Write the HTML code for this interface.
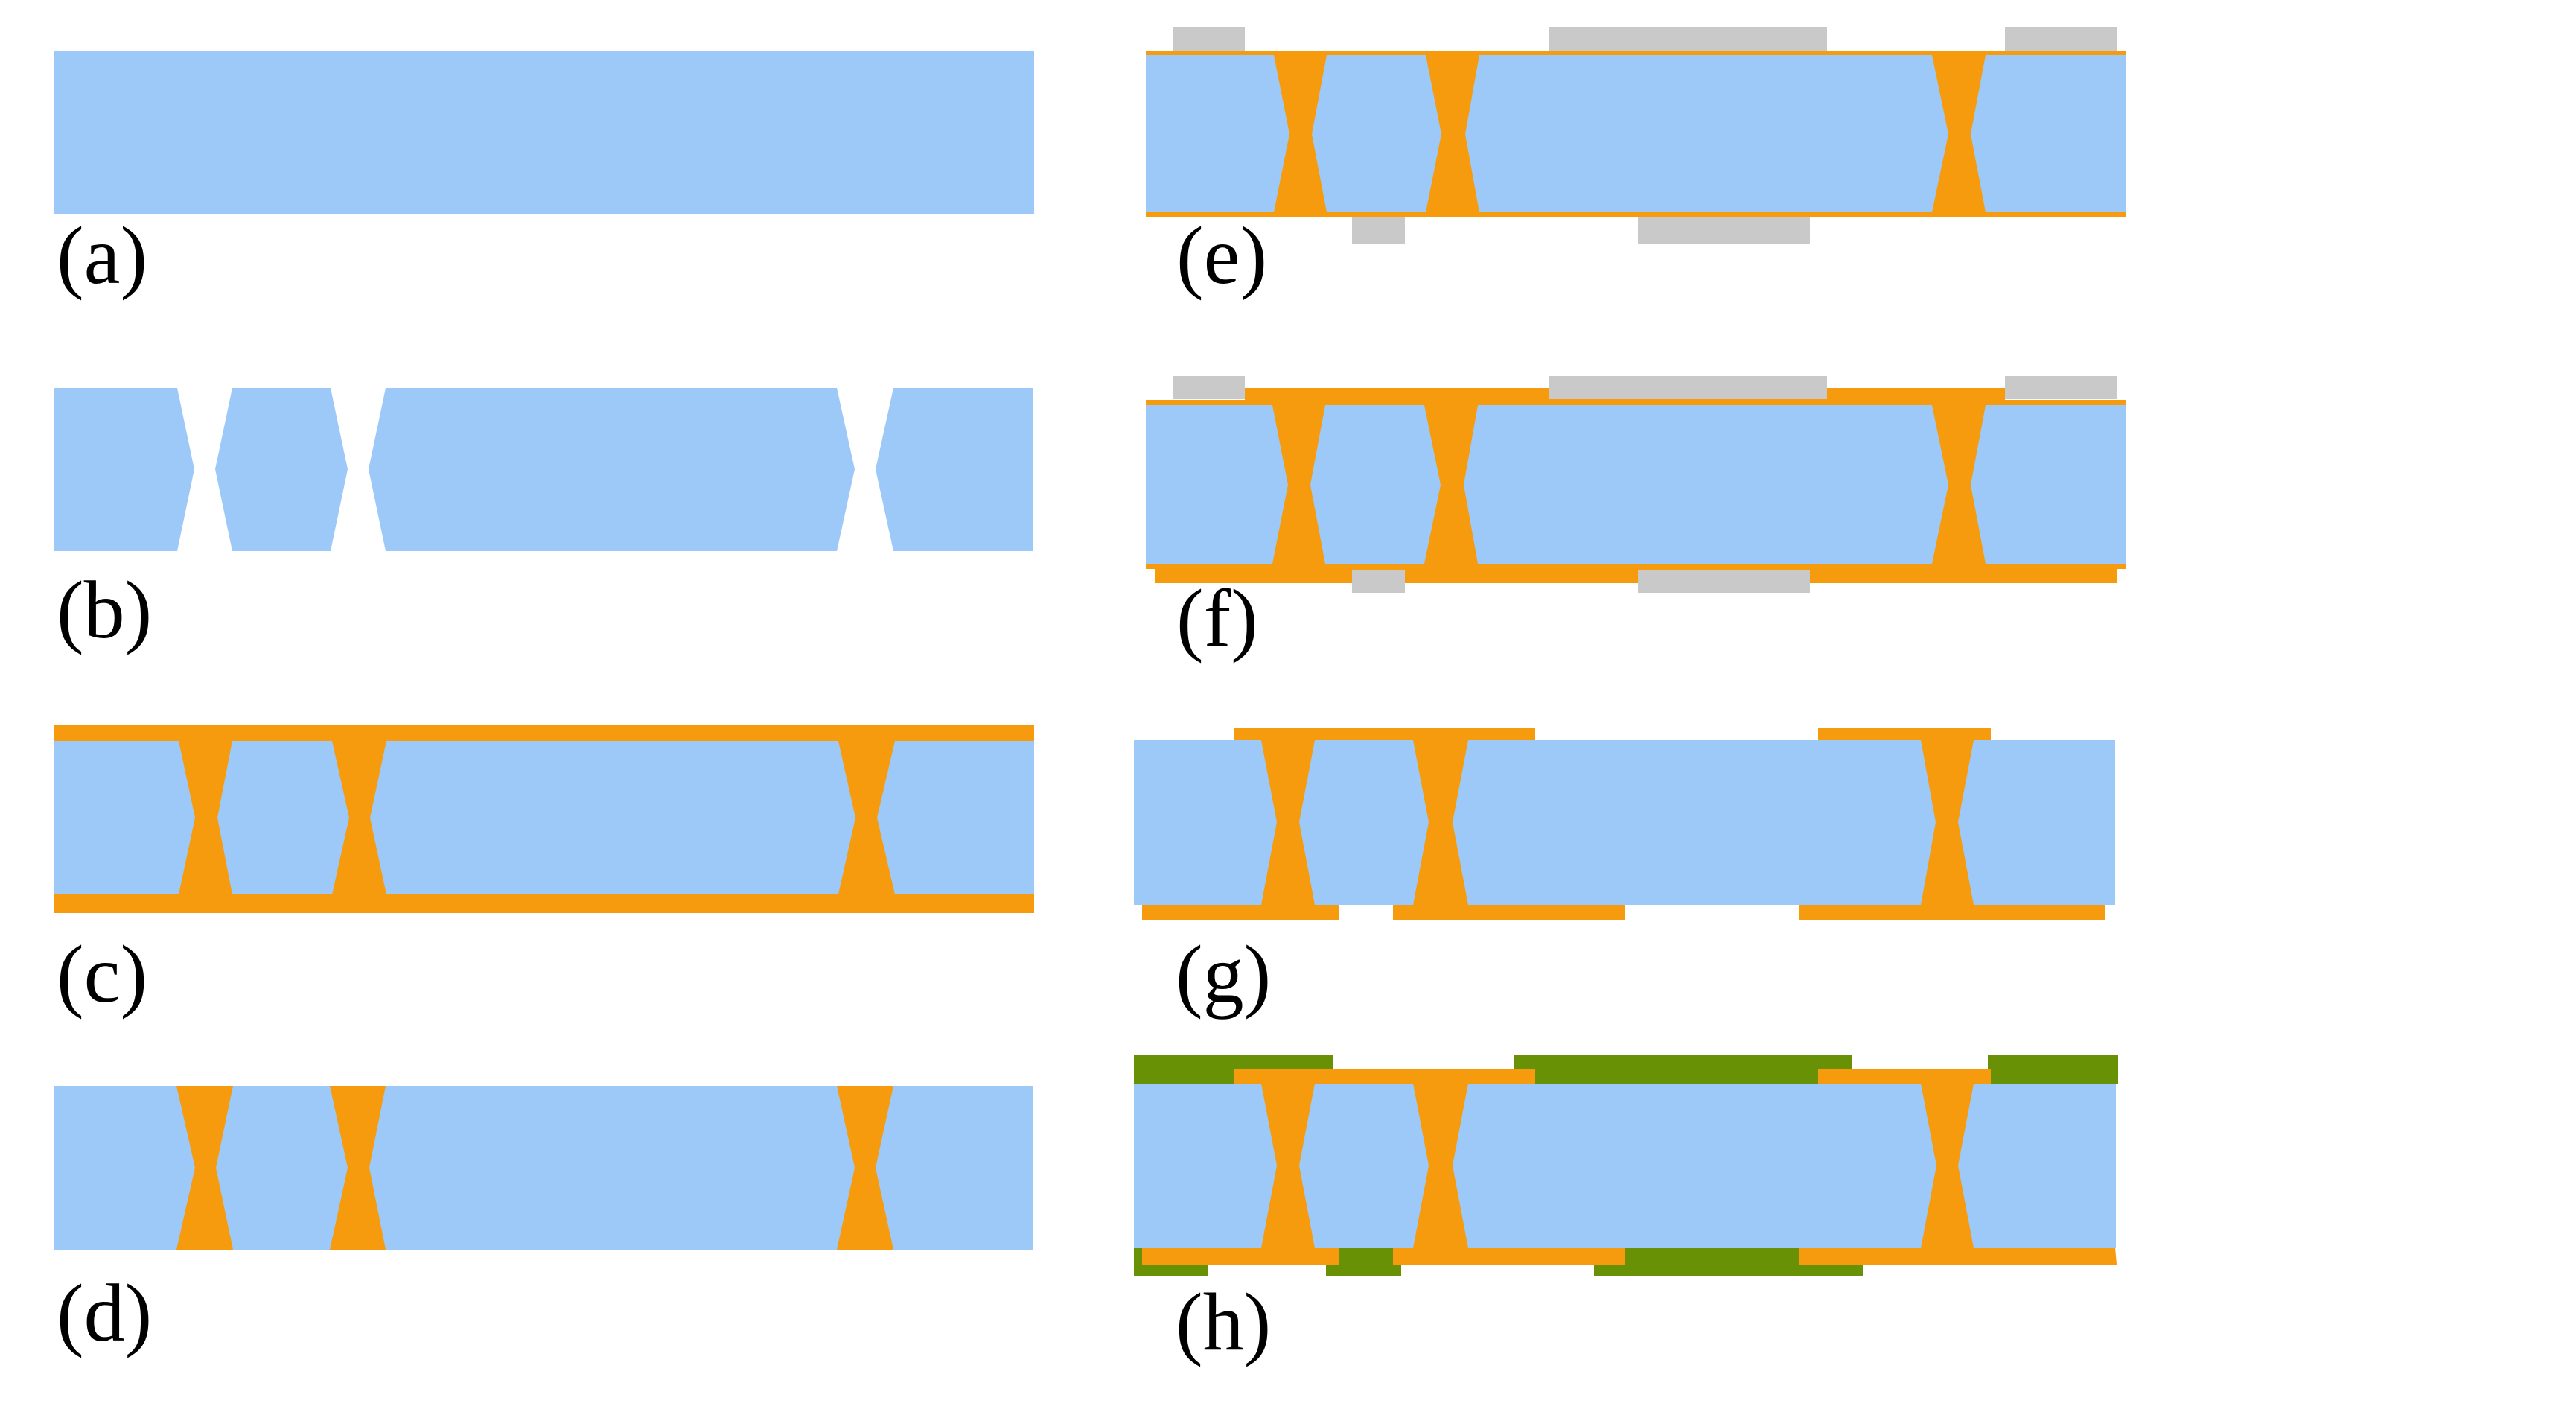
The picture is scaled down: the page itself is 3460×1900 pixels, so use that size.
<!DOCTYPE html>
<html>
<head>
<meta charset="utf-8">
<style>
  html, body { margin:0; padding:0; background:#ffffff; }
  body { width:3460px; height:1900px; overflow:hidden; }
  svg { display:block; }
  .b { fill:#9dc9f8; }
  .o { fill:#f69b0d; }
  .g { fill:#c9c9c9; }
  .gr { fill:#699106; }
  text { font-family:"Liberation Serif", "Times New Roman", serif; font-size:110px; fill:#000; }
</style>
</head>
<body>
<svg width="3460" height="1900" viewBox="0 0 3460 1900" xmlns="http://www.w3.org/2000/svg">
  <rect x="0" y="0" width="3460" height="1900" fill="#ffffff"/>

  <!-- ============ (a) ============ -->
  <rect class="b" x="72" y="68" width="1317" height="220"/>
  <text x="76" y="380">(a)</text>

  <!-- ============ (b) ============ -->
  <!-- T=521 B=740 M=630 -->
  <polygon class="b" points="72,521 238,521 261,630 238,740 72,740"/>
  <polygon class="b" points="312,521 444,521 467,630 444,740 312,740 289,630"/>
  <polygon class="b" points="518,521 1124,521 1148,630 1124,740 518,740 495,630"/>
  <polygon class="b" points="1200,521 1387,521 1387,740 1200,740 1176,630"/>
  <text x="76" y="856">(b)</text>

  <!-- ============ (c) ============ -->
  <rect class="o" x="72" y="973" width="1317" height="253"/>
  <!-- T=995 B=1201 M=1098 -->
  <polygon class="b" points="72,995 240,995 262,1098 240,1201 72,1201"/>
  <polygon class="b" points="312,995 446,995 469,1098 446,1201 312,1201 292,1098"/>
  <polygon class="b" points="519,995 1126,995 1149,1098 1126,1201 519,1201 497,1098"/>
  <polygon class="b" points="1202,995 1389,995 1389,1201 1202,1201 1178,1098"/>
  <text x="76" y="1345">(c)</text>

  <!-- ============ (d) ============ -->
  <rect class="o" x="236" y="1458" width="78" height="220"/>
  <rect class="o" x="442" y="1458" width="78" height="220"/>
  <rect class="o" x="1122" y="1458" width="80" height="220"/>
  <!-- T=1458 B=1678 M=1568 -->
  <polygon class="b" points="72,1458 237,1458 262,1568 237,1678 72,1678"/>
  <polygon class="b" points="313,1458 443,1458 467,1568 443,1678 313,1678 290,1568"/>
  <polygon class="b" points="518,1458 1124,1458 1148,1568 1124,1678 518,1678 496,1568"/>
  <polygon class="b" points="1200,1458 1387,1458 1387,1678 1200,1678 1176,1568"/>
  <text x="76" y="1800">(d)</text>

  <!-- ============ (e) ============ -->
  <rect class="o" x="1539" y="68" width="1316" height="223"/>
  <!-- T=74 B=285 M=180 -->
  <polygon class="b" points="1539,74 1711,74 1732,180 1711,285 1539,285"/>
  <polygon class="b" points="1782,74 1915,74 1936,180 1915,285 1782,285 1762,180"/>
  <polygon class="b" points="1987,74 2595,74 2617,180 2595,285 1987,285 1968,180"/>
  <polygon class="b" points="2667,74 2855,74 2855,285 2667,285 2647,180"/>
  <rect class="g" x="1576" y="36" width="96" height="32"/>
  <rect class="g" x="2080" y="36" width="374" height="32"/>
  <rect class="g" x="2693" y="36" width="151" height="32"/>
  <rect class="g" x="1816" y="292" width="71" height="35"/>
  <rect class="g" x="2200" y="292" width="231" height="35"/>
  <text x="1580" y="380">(e)</text>

  <!-- ============ (f) ============ -->
  <rect class="o" x="1539" y="537" width="1316" height="227"/>
  <rect class="o" x="1672" y="521" width="1021" height="17"/>
  <rect class="o" x="1551" y="763" width="1292" height="20"/>
  <!-- T=544 B=757 M=651 -->
  <polygon class="b" points="1539,544 1709,544 1730,651 1709,757 1539,757"/>
  <polygon class="b" points="1780,544 1913,544 1935,651 1913,757 1780,757 1760,651"/>
  <polygon class="b" points="1985,544 2595,544 2617,651 2595,757 1985,757 1966,651"/>
  <polygon class="b" points="2667,544 2855,544 2855,757 2667,757 2647,651"/>
  <rect class="g" x="1575" y="505" width="97" height="31"/>
  <rect class="g" x="2080" y="505" width="374" height="31"/>
  <rect class="g" x="2693" y="505" width="151" height="31"/>
  <rect class="g" x="1816" y="765" width="71" height="31"/>
  <rect class="g" x="2200" y="765" width="231" height="31"/>
  <text x="1580" y="867">(f)</text>

  <!-- ============ (g) ============ -->
  <rect class="o" x="1657" y="977" width="405" height="18"/>
  <rect class="o" x="2442" y="977" width="232" height="18"/>
  <rect class="o" x="1534" y="1214" width="264" height="22"/>
  <rect class="o" x="1871" y="1214" width="311" height="22"/>
  <rect class="o" x="2416" y="1214" width="412" height="22"/>
  <rect class="o" x="1692" y="994" width="76" height="221"/>
  <rect class="o" x="1896" y="994" width="78" height="221"/>
  <rect class="o" x="2578" y="994" width="75" height="221"/>
  <!-- T=994 B=1215 M=1104 -->
  <polygon class="b" points="1523,994 1694,994 1715,1104 1694,1215 1523,1215"/>
  <polygon class="b" points="1766,994 1898,994 1919,1104 1898,1215 1766,1215 1745,1104"/>
  <polygon class="b" points="1972,994 2580,994 2600,1104 2580,1215 1972,1215 1951,1104"/>
  <polygon class="b" points="2651,994 2841,994 2841,1215 2651,1215 2630,1104"/>
  <text x="1579" y="1345">(g)</text>

  <!-- ============ (h) ============ -->
  <rect class="gr" x="1523" y="1416" width="267" height="40"/>
  <rect class="gr" x="2033" y="1416" width="455" height="40"/>
  <rect class="gr" x="2670" y="1416" width="175" height="40"/>
  <rect class="o" x="1657" y="1435" width="405" height="21"/>
  <rect class="o" x="2442" y="1435" width="232" height="21"/>
  <rect class="gr" x="1523" y="1675" width="99" height="39"/>
  <rect class="gr" x="1781" y="1675" width="101" height="39"/>
  <rect class="gr" x="2141" y="1675" width="361" height="39"/>
  <rect class="o" x="1534" y="1675" width="264" height="23"/>
  <rect class="o" x="1871" y="1675" width="311" height="23"/>
  <polygon class="o" points="2416,1675 2841,1675 2843,1698 2416,1698"/>
  <rect class="o" x="1692" y="1455" width="76" height="221"/>
  <rect class="o" x="1896" y="1455" width="78" height="221"/>
  <rect class="o" x="2578" y="1455" width="75" height="221"/>
  <!-- T=1455 B=1676 M=1565 -->
  <polygon class="b" points="1523,1455 1694,1455 1715,1565 1694,1676 1523,1676"/>
  <polygon class="b" points="1766,1455 1898,1455 1919,1565 1898,1676 1766,1676 1745,1565"/>
  <polygon class="b" points="1972,1455 2580,1455 2601,1565 2580,1676 1972,1676 1951,1565"/>
  <polygon class="b" points="2651,1455 2842,1455 2842,1676 2651,1676 2630,1565"/>
  <text x="1579" y="1812">(h)</text>
</svg>
</body>
</html>
